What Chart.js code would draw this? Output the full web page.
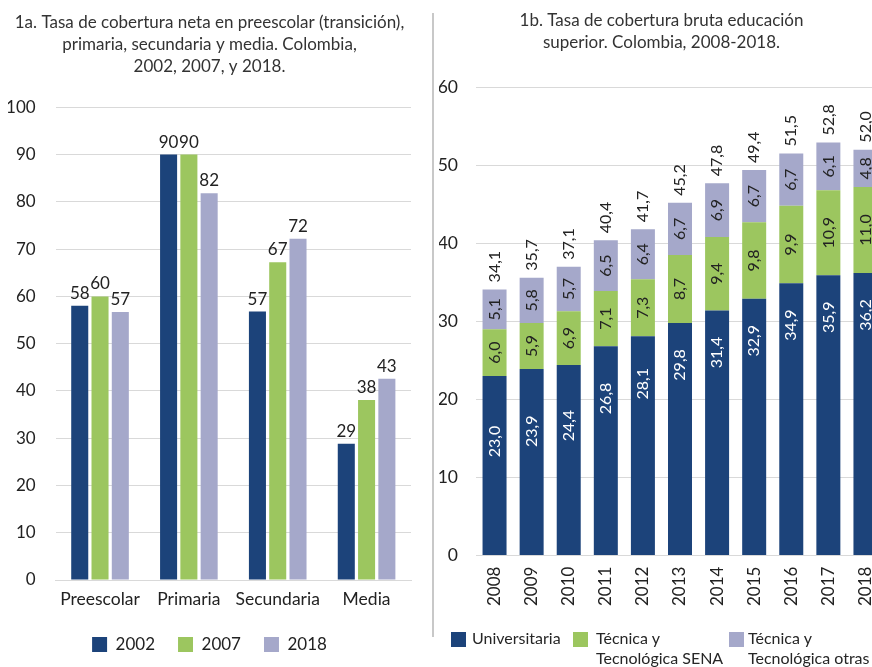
<!DOCTYPE html>
<html>
<head>
<meta charset="utf-8">
<script src="https://cdn.jsdelivr.net/npm/chart.js@4.4.1/dist/chart.umd.min.js"></script>
<style>
  html, body { margin: 0; padding: 0; background: #fff; }
  body { width: 872px; height: 667px; overflow: hidden; position: relative; font-family: Lato, sans-serif; }
  #left { position: absolute; left: 0; top: 0; width: 432px; height: 667px; }
  #right { position: absolute; left: 436px; top: 0; width: 450px; height: 667px; }
  #divider { position: absolute; left: 432px; top: 13px; width: 2px; height: 624px; background: #c8c8c8; }
  .lg-box { position: absolute; width: 15px; height: 15px; }
  .lg-text { position: absolute; font-size: 16px; line-height: 20px; color: #262626; white-space: nowrap; }
</style>
</head>
<body>
<div id="left"><canvas id="chartA"></canvas></div>
<div id="divider"></div>
<div id="right"><canvas id="chartB"></canvas></div>
<div id="legendB"></div>
<script>
// chart 1a: cobertura neta
const levels = ['Preescolar', 'Primaria', 'Secundaria', 'Media'];
const years = ['2002', '2007', '2018'];
const neta2002 = [58.0, 90.0, 56.8, 28.8];
const neta2007 = [60.0, 90.0, 67.2, 38.1];
const neta2018 = [56.7, 81.8, 72.2, 42.6];

// chart 1b: cobertura bruta superior
const periods = ['2008', '2009', '2010', '2011', '2012', '2013', '2014', '2015', '2016', '2017', '2018'];
const seriesNames = ['Universitaria', ['Técnica y', 'Tecnológica SENA'], ['Técnica y', 'Tecnológica otras']];
const universitaria = [23.0, 23.9, 24.4, 26.8, 28.1, 29.8, 31.4, 32.9, 34.9, 35.9, 36.2];
const tecSena = [6.0, 5.9, 6.9, 7.1, 7.3, 8.7, 9.4, 9.8, 9.9, 10.9, 11.0];
const tecOtras = [5.1, 5.8, 5.7, 6.5, 6.4, 6.7, 6.9, 6.7, 6.7, 6.1, 4.8];
const totals = [34.1, 35.7, 37.1, 40.4, 41.7, 45.2, 47.8, 49.4, 51.5, 52.8, 52.0];

const colors = ['#1c437a', '#9cc65f', '#a5a8ca'];
const textColor = '#222';
const gridColor = '#d9d9d9';
const fontFamily = 'Lato, sans-serif';

Chart.defaults.font.family = fontFamily;
Chart.defaults.color = textColor;

const fmt = v => v.toFixed(1).replace('.', ',');

// values above the bars of 1a
const topLabels = {
  id: 'topLabels',
  afterDatasetsDraw(chart) {
    const ctx = chart.ctx;
    ctx.save();
    ctx.font = '17px ' + fontFamily;
    ctx.fillStyle = textColor;
    ctx.textAlign = 'center';
    ctx.textBaseline = 'alphabetic';
    chart.data.datasets.forEach((ds, i) => {
      chart.getDatasetMeta(i).data.forEach((el, j) => {
        ctx.fillText(Math.round(ds.data[j]), el.x, el.y - 7);
      });
    });
    ctx.restore();
  }
};

function rotText(ctx, text, x, y, align) {
  ctx.save();
  ctx.translate(x, y);
  ctx.rotate(-Math.PI / 2);
  ctx.textAlign = align;
  ctx.textBaseline = 'middle';
  ctx.fillText(text, 0, 0);
  ctx.restore();
}

// rotated segment values and totals of 1b
const stackLabels = {
  id: 'stackLabels',
  afterDatasetsDraw(chart) {
    const ctx = chart.ctx;
    ctx.save();
    ctx.font = '16px ' + fontFamily;
    chart.data.datasets.forEach((ds, i) => {
      chart.getDatasetMeta(i).data.forEach((el, j) => {
        const top = el.y, base = el.base, h = base - top;
        let y;
        if (i === 0) {
          ctx.fillStyle = '#ffffff';
          y = top + Math.max(42, 65 - (h - 180) * 0.45);
        } else {
          ctx.fillStyle = textColor;
          y = (top + base) / 2;
        }
        rotText(ctx, fmt(ds.data[j]), el.x, y, 'center');
      });
    });
    const last = chart.getDatasetMeta(chart.data.datasets.length - 1).data;
    ctx.fillStyle = textColor;
    last.forEach((el, j) => rotText(ctx, fmt(totals[j]), el.x, el.y - 7, 'left'));
    ctx.restore();
  }
};

const noSidePad = s => { s.paddingLeft = 0; s.paddingRight = 0; };

new Chart(document.getElementById('chartA'), {
  type: 'bar',
  data: {
    labels: levels,
    datasets: [
      { label: years[0], data: neta2002, backgroundColor: colors[0] },
      { label: years[1], data: neta2007, backgroundColor: colors[1] },
      { label: years[2], data: neta2018, backgroundColor: colors[2] }
    ]
  },
  options: {
    responsive: true,
    maintainAspectRatio: false,
    animation: false,
    datasets: { bar: { categoryPercentage: 0.685, barPercentage: 0.84 } },
    layout: { padding: { left: 8, right: 21, top: 0, bottom: 4 } },
    plugins: {
      title: {
        display: true,
        text: ['1a. Tasa de cobertura neta en preescolar (transición),', 'primaria, secundaria y media. Colombia,', '2002, 2007, y 2018.'],
        color: '#333',
        font: { size: 17, weight: 'normal', lineHeight: 1.3 },
        padding: { top: 11, bottom: 30 }
      },
      legend: {
        position: 'bottom',
        labels: { boxWidth: 15, boxHeight: 15, padding: 23, font: { size: 17 }, color: textColor }
      },
      tooltip: { enabled: false }
    },
    scales: {
      x: {
        grid: { display: false },
        border: { color: gridColor },
        ticks: { font: { size: 17.5 }, color: textColor, padding: 1, minRotation: 0, maxRotation: 0, autoSkip: false },
        afterFit: s => { noSidePad(s); s.height = 33; }
      },
      y: {
        min: 0, max: 100,
        ticks: { stepSize: 10, font: { size: 17 }, color: textColor, padding: 20 },
        grid: { color: gridColor, drawTicks: false },
        border: { display: false },
        afterFit: s => { s.width = 47.6; }
      }
    }
  },
  plugins: [topLabels]
});

new Chart(document.getElementById('chartB'), {
  type: 'bar',
  data: {
    labels: periods,
    datasets: [
      { label: 'Universitaria', data: universitaria, backgroundColor: colors[0] },
      { label: 'Técnica y Tecnológica SENA', data: tecSena, backgroundColor: colors[1] },
      { label: 'Técnica y Tecnológica otras', data: tecOtras, backgroundColor: colors[2] }
    ]
  },
  options: {
    responsive: true,
    maintainAspectRatio: false,
    animation: false,
    datasets: { bar: { categoryPercentage: 1, barPercentage: 0.647 } },
    layout: { padding: { left: 3, right: 2, top: 0, bottom: 58 } },
    plugins: {
      title: {
        display: true,
        text: ['1b. Tasa de cobertura bruta educación', 'superior. Colombia, 2008-2018.'],
        color: '#333',
        font: { size: 17, weight: 'normal', lineHeight: 1.3 },
        padding: { top: 9, bottom: 34 }
      },
      legend: { display: false },
      tooltip: { enabled: false }
    },
    scales: {
      x: {
        stacked: true,
        grid: { display: false },
        border: { color: gridColor },
        ticks: { font: { size: 17 }, color: textColor, padding: 3, minRotation: 90, maxRotation: 90, autoSkip: false },
        afterFit: noSidePad
      },
      y: {
        stacked: true,
        min: 0, max: 60,
        ticks: { stepSize: 10, font: { size: 17.5 }, color: textColor, padding: 18 },
        grid: { color: gridColor, drawTicks: false },
        border: { display: false },
        afterFit: s => { s.width = 37; }
      }
    }
  },
  plugins: [stackLabels]
});

// html legend for 1b (two-line entries)
const legendB = document.getElementById('legendB');
const boxLeft = [451, 573, 729];
const textLeft = [472, 596, 748];
seriesNames.forEach((name, i) => {
  const box = document.createElement('div');
  box.className = 'lg-box';
  box.style.left = boxLeft[i] + 'px';
  box.style.top = '632px';
  box.style.background = colors[i];
  legendB.appendChild(box);
  const t = document.createElement('div');
  t.className = 'lg-text';
  t.style.left = textLeft[i] + 'px';
  t.style.top = '628px';
  t.innerHTML = [].concat(name).join('<br>');
  legendB.appendChild(t);
});
</script>
</body>
</html>
